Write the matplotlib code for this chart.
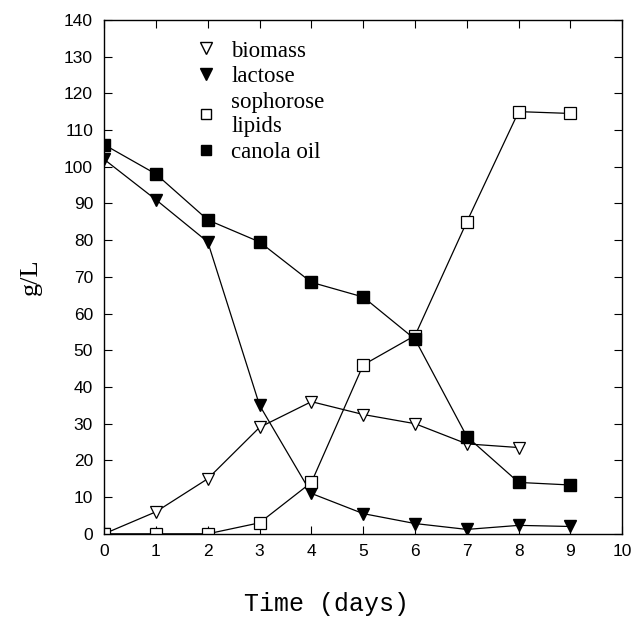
import matplotlib
matplotlib.use("Agg")
import matplotlib.pyplot as plt
from matplotlib.lines import Line2D

days = [0, 1, 2, 3, 4, 5, 6, 7, 8, 9]
biomass = [0, 6, 15, 29, 36, 32.5, 30, 24.5, 23.5]
lactose = [102, 91, 79.5, 35, 11, 5.5, 2.8, 1.2, 2.3, 2]
sophorose = [0, 0, 0, 3, 14, 46, 54, 85, 115, 114.5]
canola = [106, 98, 85.5, 79.5, 68.5, 64.5, 53, 26.5, 14, 13.3]

fig = plt.figure(figsize=(6.35, 6.2), dpi=100)
ax = fig.add_axes([0.164, 0.139, 0.816, 0.829])

lw = 0.9
ax.plot(days[:len(biomass)], biomass, color='black', lw=lw, marker='v', ms=9,
        mfc='white', mec='black', mew=0.9)
ax.plot(days, lactose, color='black', lw=lw, marker='v', ms=9,
        mfc='black', mec='black')
ax.plot(days, sophorose, color='black', lw=lw, marker='s', ms=8,
        mfc='white', mec='black', mew=0.9)
ax.plot(days, canola, color='black', lw=lw, marker='s', ms=8,
        mfc='black', mec='black')

ax.set_xlim(0, 10)
ax.set_ylim(0, 140)
ax.set_xticks(range(0, 11))
ax.set_yticks(range(0, 141, 10))
ax.tick_params(direction='in', length=6, width=0.8, top=True, right=True,
               labelsize=12.5)
ax.tick_params(axis='y', pad=8)
ax.tick_params(axis='x', pad=7)
for lab in ax.get_xticklabels() + ax.get_yticklabels():
    lab.set_family('Liberation Sans')
for s in ax.spines.values():
    s.set_linewidth(1.0)

ax.set_xlabel('Time (days)', family='Liberation Mono', fontsize=18)
ax.xaxis.set_label_coords(0.43, -0.113)
ax.set_ylabel('g/L', family='Liberation Serif', fontsize=19, labelpad=16)

handles = [
    Line2D([], [], ls='none', marker='v', ms=8, mfc='white', mec='black'),
    Line2D([], [], ls='none', marker='v', ms=8, mfc='black', mec='black'),
    Line2D([], [], ls='none', marker='s', ms=7, mfc='white', mec='black'),
    Line2D([], [], ls='none', marker='s', ms=7, mfc='black', mec='black'),
]
labels = ['biomass', 'lactose', 'sophorose\nlipids', 'canola oil']
ax.legend(handles, labels, loc='upper left', bbox_to_anchor=(0.135, 1.0),
          frameon=False, handlelength=1.0, handletextpad=0.6,
          labelspacing=0.2, prop={'family': 'Liberation Serif', 'size': 16.5})

fig.savefig('out.png', dpi=100)
